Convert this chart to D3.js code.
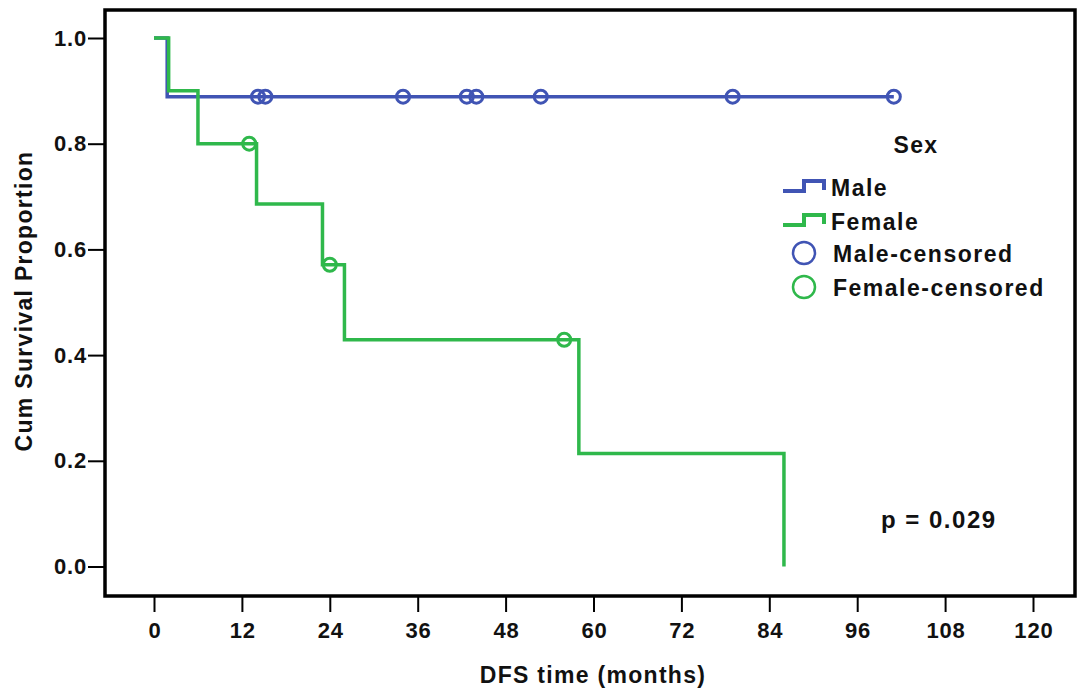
<!DOCTYPE html>
<html><head><meta charset="utf-8">
<script src="https://cdn.jsdelivr.net/npm/d3@7/dist/d3.min.js"></script>
<style>body{margin:0;background:#fff}svg{display:block}text{font-family:"Liberation Sans",Arial,sans-serif;font-weight:bold;fill:#111}</style>
</head><body>
<script>
const xTicks = [0,12,24,36,48,60,72,84,96,108,120];
const yTicks = [0.0,0.2,0.4,0.6,0.8,1.0];
// Kaplan-Meier step points [time, survival]
const maleSteps = [[0,1.0],[1.8,0.889],[101,0.889]];
const femaleSteps = [[0,1.0],[2,0.9],[6,0.8],[14,0.686],[23,0.571],[26,0.429],[58,0.214],[86,0.0]];
const maleCensored = [[14.2,0.889],[15.2,0.889],[34,0.889],[42.7,0.889],[44,0.889],[52.8,0.889],[79,0.889],[101,0.889]];
const femaleCensored = [[13,0.8],[24,0.571],[56,0.429]];
const legendLabels = ["Male","Female","Male-censored","Female-censored"];
const pText = "p = 0.029";

const W=1078,H=695;
const blue="#4054b4", green="#2fb84b";
const svg=d3.select("body").append("svg").attr("width",W).attr("height",H);
const L=105,R=1075,T=10,B=596;
const x=d3.scaleLinear().domain([0,120]).range([154,1033]);
const y=d3.scaleLinear().domain([0,1]).range([566.5,38]);

// frame
svg.append("rect").attr("x",L).attr("y",T).attr("width",R-L).attr("height",B-T)
  .attr("fill","none").attr("stroke","#000").attr("stroke-width",3.5);

// axes
const xa=svg.append("g").attr("transform",`translate(0,${B+1})`)
  .call(d3.axisBottom(x).tickValues(xTicks).tickSize(15).tickPadding(10).tickFormat(d3.format("d")));
xa.select(".domain").remove();
xa.selectAll("line").attr("stroke","#000").attr("stroke-width",2);
xa.selectAll("text").attr("font-size",22).style("letter-spacing","0.8px").attr("dx","0.4px")
  .style("font-family","Liberation Sans, Arial").style("font-weight","bold").attr("fill","#111");

const ya=svg.append("g").attr("transform",`translate(${L-1},0)`)
  .call(d3.axisLeft(y).tickValues(yTicks).tickSize(16).tickPadding(1).tickFormat(d3.format(".1f")));
ya.select(".domain").remove();
ya.selectAll("line").attr("stroke","#000").attr("stroke-width",2);
ya.selectAll("text").attr("font-size",22).style("letter-spacing","0.8px")
  .style("font-family","Liberation Sans, Arial").style("font-weight","bold").attr("fill","#111");

svg.append("text").attr("x",(L+R)/2+3).attr("y",683).attr("text-anchor","middle").attr("font-size",23)
  .style("letter-spacing","1.3px").text("DFS time (months)");
svg.append("text").attr("transform",`translate(32,${(T+B)/2-2}) rotate(-90)`).attr("text-anchor","middle").attr("font-size",23)
  .style("letter-spacing","1.3px").text("Cum Survival Proportion");

const line=d3.line().x(d=>x(d[0])).y(d=>y(d[1])).curve(d3.curveStepAfter);
const g=svg.append("g");
g.append("path").datum(maleSteps).attr("d",line).attr("fill","none").attr("stroke",blue).attr("stroke-width",3.5);
g.append("path").datum(femaleSteps).attr("d",line).attr("fill","none").attr("stroke",green).attr("stroke-width",3.5);

g.selectAll("circle.m").data(maleCensored).join("circle").attr("cx",d=>x(d[0])).attr("cy",d=>y(d[1])).attr("r",6.5)
  .attr("fill","none").attr("stroke",blue).attr("stroke-width",3);
g.selectAll("circle.f").data(femaleCensored).join("circle").attr("cx",d=>x(d[0])).attr("cy",d=>y(d[1])).attr("r",6.5)
  .attr("fill","none").attr("stroke",green).attr("stroke-width",3);

// legend
svg.append("text").attr("x",916).attr("y",153).attr("text-anchor","middle").attr("font-size",23)
  .style("letter-spacing","1.3px").text("Sex");
const lg=svg.append("g");
const rows=[196,230,262,296];
const cols=[blue,green,blue,green];
legendLabels.forEach((lab,i)=>{
  const yy=rows[i];
  if(i<2){
    lg.append("path").attr("d",`M783,${yy-5}H804V${yy-15}H824V${yy-6}`).attr("fill","none").attr("stroke",cols[i]).attr("stroke-width",4);
    lg.append("text").attr("x",831).attr("y",yy).attr("font-size",23).style("letter-spacing","1.5px").text(lab);
  } else {
    lg.append("circle").attr("cx",804).attr("cy",yy-9).attr("r",11).attr("fill","none").attr("stroke",cols[i]).attr("stroke-width",2.5);
    lg.append("text").attr("x",833).attr("y",yy).attr("font-size",23).style("letter-spacing","1.5px").text(lab);
  }
});
svg.append("text").attr("x",881).attr("y",528).attr("font-size",24).style("letter-spacing","1.5px").text(pText);
</script>
</body></html>
